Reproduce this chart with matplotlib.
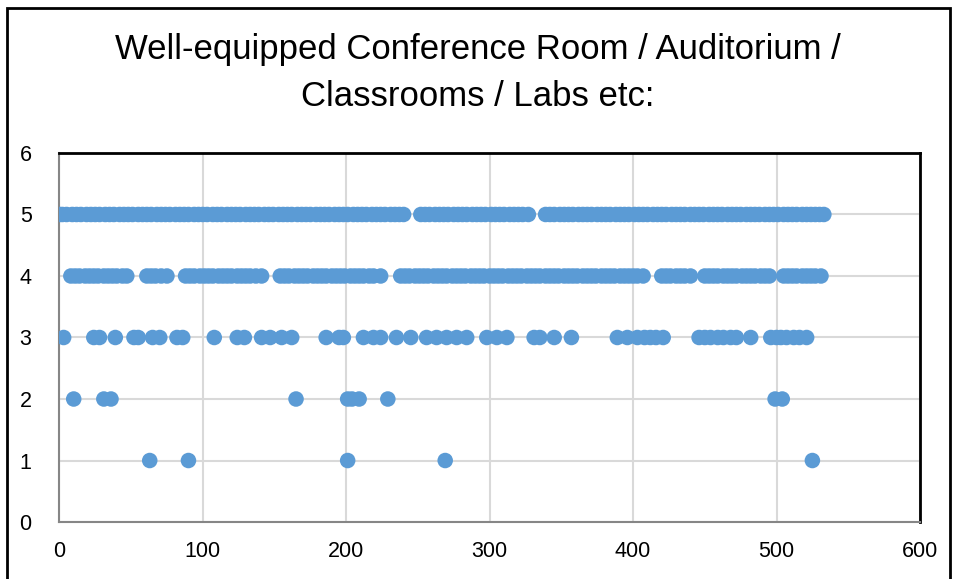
import matplotlib.pyplot as plt
from matplotlib.patches import Rectangle

plt.rcParams['font.family'] = ['Liberation Sans', 'DejaVu Sans']

titulo = 'Well-equipped Conference Room / Auditorium /\nClassrooms / Labs etc:'

# x positions of the responses, grouped by rating
x5 = [0, 2, 5, 9, 12, 15, 19, 22, 25, 28, 32, 35, 38, 42, 45, 48, 51, 55, 58, 61, 64,
      68, 71, 74, 77, 81, 84, 87, 90, 94, 97, 100, 103, 107, 110, 113, 117, 120, 123,
      126, 130, 133, 136, 139, 143, 146, 149, 153, 156, 159, 162, 166, 169, 172, 175,
      179, 182, 185, 188, 192, 195, 198, 201, 205, 208, 211, 214, 218, 221, 224, 227,
      231, 234, 237, 240,
      252, 255, 258, 262, 265, 268, 271, 275, 278, 281, 284, 288, 291, 294, 297, 301,
      304, 307, 310, 314, 317, 320, 323, 327,
      339, 342, 345, 349, 352, 355, 358, 362, 365, 368, 371, 375, 378, 381, 384, 388,
      391, 394, 397, 401, 404, 407, 410, 414, 417, 420, 423, 427, 430, 433, 436, 440,
      443, 446, 449, 453, 456, 459, 462, 466, 469, 472, 475, 479, 482, 485, 488, 492,
      495, 498, 501, 505, 508, 511, 514, 518, 521, 524, 527, 530, 533]
x4 = [8, 11, 14, 18, 21, 24, 27, 31, 34, 37, 40, 44, 47,
      61, 64, 67, 71, 75,
      88, 91, 94, 98, 101, 104, 107, 111, 114, 117, 120, 124, 127, 130, 133, 137, 141,
      154, 157, 160, 164, 167, 170, 173, 177, 180, 183, 186, 190, 193, 196, 199, 203,
      206, 209, 212, 216, 219, 224,
      238, 241, 244, 248, 251, 254, 257, 261, 264, 267, 270, 274, 277, 280, 283, 287,
      290, 293, 296, 300, 303, 306, 309, 313, 316, 319, 322, 326, 329, 332, 335, 339,
      342, 345, 348, 352, 355, 358, 361, 365, 368, 371, 374, 378, 381, 384, 387, 391,
      394, 397, 400, 403, 407,
      420, 423, 426, 430, 433, 436, 440,
      450, 453, 456, 459, 463, 466, 469, 472, 476, 479, 482, 485, 489, 492, 495,
      505, 508, 511, 514, 518, 521, 524, 527, 531]
x3 = [3, 24, 28, 39, 52, 55, 65, 70, 82, 86, 108, 124, 129, 141, 147, 155, 162, 186,
      195, 198, 212, 219, 224, 235, 245, 256, 263, 270, 277, 284, 298, 305, 312, 331,
      335, 345, 357, 389, 396, 403, 408, 412, 416, 421, 446, 450, 454, 459, 463, 468,
      472, 482, 496, 500, 503, 507, 512, 516, 521]
x2 = [10, 31, 36, 165, 201, 204, 209, 229, 499, 504]
x1 = [63, 90, 201, 269, 525]

grupos = [(x5, 5), (x4, 4), (x3, 3), (x2, 2), (x1, 1)]

fig = plt.figure(figsize=(9.56, 5.79), dpi=100)
ax = fig.add_axes([0.0621, 0.0984, 0.9002, 0.6374])

for xs, valor in grupos:
    ax.scatter(xs, [valor] * len(xs), s=125, color='#5b9bd5', edgecolors='none', zorder=3)

ax.set_xlim(0, 600)
ax.set_ylim(0, 6)
ax.set_xticks(range(0, 601, 100))
ax.set_yticks(range(0, 7))
ax.grid(True, color='#d9d9d9', linewidth=1.5, zorder=0)
ax.set_axisbelow(True)
ax.tick_params(length=0, labelsize=15.5, pad=14)
ax.tick_params(axis='y', pad=20)

ax.spines['top'].set_color('black')
ax.spines['right'].set_color('black')
ax.spines['top'].set_linewidth(2)
ax.spines['right'].set_linewidth(2)
ax.spines['left'].set_color('#868686')
ax.spines['bottom'].set_color('#868686')
ax.spines['left'].set_linewidth(1.5)
ax.spines['bottom'].set_linewidth(1.5)

fig.text(0.5, 0.874, titulo, ha='center', va='center', fontsize=25, linespacing=1.52)

# chart border
fig.patches.append(Rectangle((7 / 956, -0.02), 943 / 956, 1 - 8 / 579 + 0.02,
                             transform=fig.transFigure, fill=False,
                             edgecolor='black', linewidth=2))

plt.savefig('out.png', dpi=100)
